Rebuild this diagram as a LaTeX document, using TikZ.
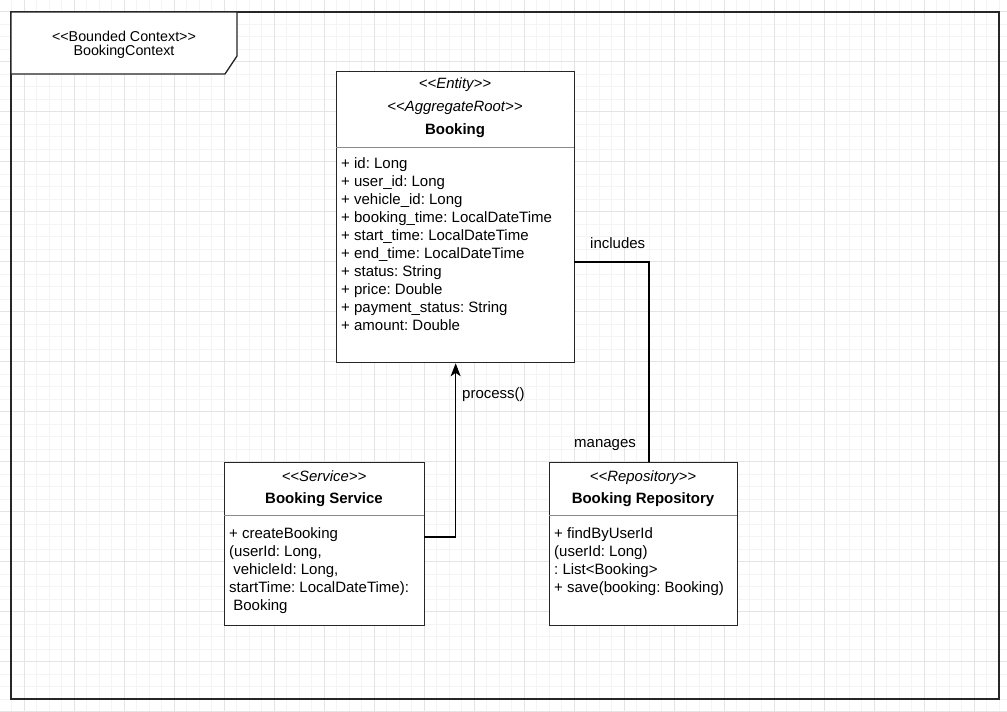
\documentclass[tikz,border=0pt]{standalone}
\usepackage{fontspec}
\setmainfont{Liberation Sans}
\usetikzlibrary{arrows.meta}
\definecolor{gridminor}{HTML}{F4F4F4}
\definecolor{gridmajor}{HTML}{E4E4E4}
\definecolor{edge}{HTML}{262626}
\definecolor{sep}{HTML}{8A8A8A}
\tikzset{
  classbox/.style={draw=edge, line width=1.3pt, fill=white, anchor=north west, inner sep=0pt},
  sepline/.style={draw=sep, line width=0.9pt},
  stereo/.style={font=\fontsize{14.9}{17}\selectfont\itshape, anchor=base},
  title/.style={font=\fontsize{15}{18}\selectfont\bfseries, anchor=base},
  member/.style={font=\fontsize{15}{18}\selectfont, anchor=base west, inner sep=0pt},
  lbl/.style={font=\fontsize{15}{18}\selectfont, anchor=base west, inner sep=0pt},
  link/.style={draw=black, line width=1.2pt},
}
\begin{document}
\frenchspacing
\begin{tikzpicture}[x=1pt, y=-1pt]
\useasboundingbox (0,0) rectangle (1007,712);
\fill[white] (0,0) rectangle (1007,712);
% background grid
\foreach \i in {-1,...,79} {
  \draw[gridminor, line width=0.8pt] ({24.3+12.5*\i},0) -- ({24.3+12.5*\i},712);
}
\foreach \i in {-1,...,57} {
  \draw[gridminor, line width=0.8pt] (0,{11.7+12.5*\i}) -- (1007,{11.7+12.5*\i});
}
\foreach \i in {0,...,19} {
  \draw[gridmajor, line width=0.8pt] ({24.3+50*\i},0) -- ({24.3+50*\i},712);
}
\foreach \i in {0,...,14} {
  \draw[gridmajor, line width=0.8pt] (0,{11.7+50*\i}) -- (1007,{11.7+50*\i});
}

% bounded context frame and its tab
\draw[edge, line width=1.5pt] (11,12) rectangle (999,699);
\draw[edge, line width=1.3pt, fill=white] (11,12) -- (237,12) -- (237,56) -- (225,74) -- (11,74) -- cycle;
\node[font=\fontsize{14.3}{15}\selectfont, anchor=base] (ctxs) at (124,41) {<{}<Bounded Context>{}>};
\node[font=\fontsize{14.3}{15}\selectfont, anchor=base] (ctxn) at (124,55) {BookingContext};

% Booking aggregate root
\node[classbox, minimum width=238pt, minimum height=291pt] (ent) at (336,71) {};
\draw[sepline] (336,147) -- (574,147);
\node[stereo] (ents1) at (455,88) {<{}<Entity>{}>};
\node[stereo] (ents2) at (455,111) {<{}<AggregateRoot>{}>};
\node[title] (entt) at (455,134) {Booking};
\foreach \t [count=\k from 0] in {+ id: Long, + user\_id: Long, + vehicle\_id: Long, + booking\_time: LocalDateTime, + start\_time: LocalDateTime, + end\_time: LocalDateTime, + status: String, + price: Double, + payment\_status: String, + amount: Double} {
  \node[member] (enta\k) at (341,{168+18*\k}) {\t};
}

% Booking service
\node[classbox, minimum width=200pt, minimum height=163pt] (svc) at (224,462) {};
\draw[sepline] (224,515) -- (424,515);
\node[stereo] (svcs) at (324,481) {<{}<Service>{}>};
\node[title] (svct) at (324,503) {Booking Service};
\node[member] (svcm1) at (229,538) {+ createBooking};
\node[member] (svcm2) at (229,556) {(userId: Long,};
\node[member] (svcm3) at (229,574) {\ vehicleId: Long,};
\node[member] (svcm4) at (229,592) {startTime: LocalDateTime):};
\node[member] (svcm5) at (229,610) {\ Booking};

% Booking repository
\node[classbox, minimum width=188pt, minimum height=163pt] (repo) at (549,462) {};
\draw[sepline] (549,515) -- (737,515);
\node[stereo] (repos) at (643,481) {<{}<Repository>{}>};
\node[title] (repot) at (643,503) {Booking Repository};
\node[member] (repom1) at (554,538) {+ findByUserId};
\node[member] (repom2) at (554,556) {(userId: Long)};
\node[member] (repom3) at (554,574) {: List<Booking>};
\node[member] (repom4) at (554,592) {+ save(booking: Booking)};

% service processes the aggregate
\coordinate (svcout) at (424,537);
\draw[link, -{Stealth[length=13pt, width=10pt, inset=3.5pt]}] (svcout) -| (ent.south);
\node[lbl] (procl) at (462,398) {process()};

% repository manages the aggregate
\coordinate (entout) at (574,262);
\coordinate (repoin) at (649,462);
\draw[link] (entout) -| (repoin);
\node[lbl] (incl) at (590,248) {includes};
\node[lbl] (manl) at (574,447) {manages};
\end{tikzpicture}
\end{document}
